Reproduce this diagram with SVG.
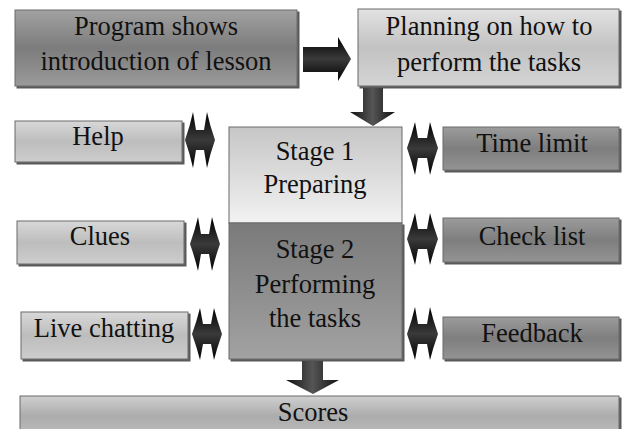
<svg xmlns="http://www.w3.org/2000/svg" width="624" height="429" viewBox="0 0 624 429">
<defs>
<linearGradient id="gDark" x1="0" y1="0" x2="0" y2="1">
<stop offset="0" stop-color="#a2a2a2"/><stop offset="0.5" stop-color="#7c7c7c"/><stop offset="1" stop-color="#9a9a9a"/>
</linearGradient>
<linearGradient id="gLight" x1="0" y1="0" x2="0" y2="1">
<stop offset="0" stop-color="#e2e2e2"/><stop offset="0.5" stop-color="#c2c2c2"/><stop offset="1" stop-color="#d4d4d4"/>
</linearGradient>
<linearGradient id="gSide" x1="0" y1="0" x2="0" y2="1">
<stop offset="0" stop-color="#d8d8d8"/><stop offset="0.5" stop-color="#bdbdbd"/><stop offset="1" stop-color="#cdcdcd"/>
</linearGradient>
<linearGradient id="gRight" x1="0" y1="0" x2="0" y2="1">
<stop offset="0" stop-color="#9c9c9c"/><stop offset="0.5" stop-color="#7e7e7e"/><stop offset="1" stop-color="#939393"/>
</linearGradient>
<linearGradient id="gStage1" x1="0" y1="0" x2="0" y2="1">
<stop offset="0" stop-color="#c6c6c6"/><stop offset="1" stop-color="#f2f2f2"/>
</linearGradient>
<linearGradient id="gStage2" x1="0" y1="0" x2="0" y2="1">
<stop offset="0" stop-color="#7a7a7a"/><stop offset="0.5" stop-color="#8e8e8e"/><stop offset="1" stop-color="#a2a2a2"/>
</linearGradient>
<linearGradient id="gScores" x1="0" y1="0" x2="0" y2="1">
<stop offset="0" stop-color="#cfcfcf"/><stop offset="0.5" stop-color="#acacac"/><stop offset="1" stop-color="#bdbdbd"/>
</linearGradient>
<linearGradient id="gArrH" x1="0" y1="0" x2="0" y2="1">
<stop offset="0" stop-color="#000"/><stop offset="0.5" stop-color="#3a3a3a"/><stop offset="1" stop-color="#000"/>
</linearGradient>
<linearGradient id="gArrV" x1="0" y1="0" x2="1" y2="0">
<stop offset="0" stop-color="#111"/><stop offset="0.5" stop-color="#555"/><stop offset="1" stop-color="#111"/>
</linearGradient>
<filter id="sh" x="-5%" y="-10%" width="115%" height="130%">
<feDropShadow dx="2" dy="2" stdDeviation="0.6" flood-color="#333" flood-opacity="0.8"/>
</filter>
</defs>
<style>
.box{stroke:#6a6a6a;stroke-width:1;filter:url(#sh)}
.t{font-family:"Liberation Serif","Times New Roman",serif;font-size:26.5px;fill:#111;text-anchor:middle}
.dbl{fill:url(#gArrH)}
</style>
<rect width="624" height="429" fill="#fff"/>

<g id="n-program">
<rect class="box" x="15" y="10" width="282" height="76" fill="url(#gDark)"/>
<text class="t" x="156" y="35">Program shows</text>
<text class="t" x="156" y="70">introduction of lesson</text>
</g>
<g id="n-planning">
<rect class="box" x="358" y="9" width="261" height="77" fill="url(#gLight)"/>
<text class="t" x="489" y="35">Planning on how to</text>
<text class="t" x="489" y="71">perform the tasks</text>
</g>
<g id="n-help">
<rect class="box" x="15" y="121" width="167" height="41" fill="url(#gSide)"/>
<text class="t" x="98" y="145">Help</text>
</g>
<g id="n-clues">
<rect class="box" x="17" y="221" width="167" height="43" fill="url(#gSide)"/>
<text class="t" x="100" y="245">Clues</text>
</g>
<g id="n-live">
<rect class="box" x="21" y="312" width="167" height="47" fill="url(#gSide)"/>
<text class="t" x="104" y="337">Live chatting</text>
</g>
<g id="n-stage1">
<rect x="229" y="127" width="173" height="96" fill="url(#gStage1)" stroke="#6a6a6a"/>
<text class="t" x="315" y="160">Stage 1</text>
<text class="t" x="315" y="193">Preparing</text>
</g>
<g id="n-stage2">
<rect class="box" x="229" y="223" width="173" height="136" fill="url(#gStage2)"/>
<text class="t" x="315" y="258">Stage 2</text>
<text class="t" x="315" y="293">Performing</text>
<text class="t" x="315" y="327">the tasks</text>
</g>
<g id="n-time">
<rect class="box" x="443" y="127" width="176" height="43" fill="url(#gRight)"/>
<text class="t" x="532" y="152">Time limit</text>
</g>
<g id="n-check">
<rect class="box" x="443" y="218" width="176" height="44" fill="url(#gRight)"/>
<text class="t" x="532" y="245">Check list</text>
</g>
<g id="n-feedback">
<rect class="box" x="443" y="317" width="176" height="42" fill="url(#gRight)"/>
<text class="t" x="532" y="342">Feedback</text>
</g>
<g id="n-scores">
<rect class="box" x="20" y="396" width="599" height="40" fill="url(#gScores)"/>
<text class="t" x="313" y="421">Scores</text>
</g>

<g id="connectors">
<path d="M303,47 L338,47 L338,37 L351,59 L338,81 L338,72 L303,72 Z" fill="url(#gArrH)"/>
<path d="M363,88 L383,88 L383,112 L395,112 L373,126 L350,112 L363,112 Z" fill="url(#gArrV)"/>
<path d="M302,361 L323,361 L323,380 L339,380 L313,394 L286,380 L302,380 Z" fill="url(#gArrV)"/>
<path class="dbl" d="M185,140 Q190,126 193,112 L196,130 L204,130 L207,112 Q210,126 215,140 Q210,154 207,168 L204,150 L196,150 L193,168 Q190,154 185,140 Z"/>
<path class="dbl" d="M190,244 Q195,230 198,217 L201,234 L209,234 L212,217 Q215,230 220,244 Q215,258 212,271 L209,254 L201,254 L198,271 Q195,258 190,244 Z"/>
<path class="dbl" d="M192,334 Q197,320 200,308 L203,324 L211,324 L214,308 Q217,320 222,334 Q217,348 214,360 L211,344 L203,344 L200,360 Q197,348 192,334 Z"/>
<path class="dbl" d="M407,148 Q412,134 415,122 L418,138 L427,138 L430,122 Q433,134 438,148 Q433,162 430,175 L427,158 L418,158 L415,175 Q412,162 407,148 Z"/>
<path class="dbl" d="M407,239 Q412,225 415,213 L418,229 L427,229 L430,213 Q433,225 438,239 Q433,253 430,265 L427,249 L418,249 L415,265 Q412,253 407,239 Z"/>
<path class="dbl" d="M407,334 Q412,320 415,307 L418,324 L427,324 L430,307 Q433,320 438,334 Q433,348 430,360 L427,344 L418,344 L415,360 Q412,348 407,334 Z"/>
</g>
</svg>
